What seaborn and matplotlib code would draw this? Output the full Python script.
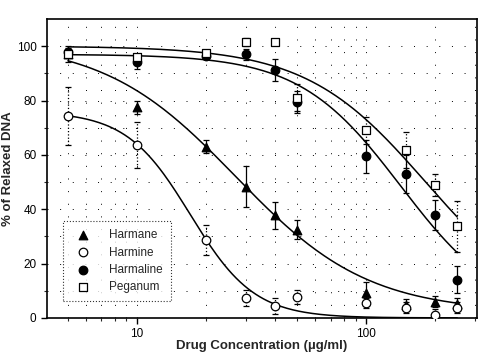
import numpy as np
import pandas as pd
import matplotlib
matplotlib.use("Agg")
import matplotlib.pyplot as plt
from matplotlib.ticker import LogLocator, FixedLocator, NullFormatter, FixedFormatter
import seaborn as sns

conc = [5, 10, 20, 30, 40, 50, 100, 150, 200, 250]
harmane = [97, 77.5, 63, 48.3, 37.7, 32.5, 9.2, 4.8, 6, 5.2]
harmane_err = [3, 2.5, 2.5, 7.5, 5, 3.5, 4, 2, 2, 2]
harmine = [74.3, 63.6, 28.8, 7.4, 4.4, 7.7, 5.5, 3.7, 1.1, 3.7]
harmine_err = [10.5, 8.5, 5.5, 3, 3, 2.5, 2, 2, 2, 2]
harmaline = [98, 94.2, 96.4, 97, 91.1, 79.5, 59.5, 53.1, 37.8, 14]
harmaline_err = [1.5, 2.5, 1, 2, 4, 4, 6, 7, 5.5, 5]
peganum = [97, 96, 97.6, 101.4, 101.4, 81, 69, 61.7, 49, 33.7]
peganum_err = [1, 1, 1, 1.5, 1, 5, 5, 6.6, 4, 9.5]

names = ["Harmane", "Harmine", "Harmaline", "Peganum"]
markers = ["^", "o", "o", "s"]
filled = [True, False, True, False]

# fitted sigmoid parameters per drug: top, bottom, IC50, hill slope
fit_top = [102, 76, 97, 100]
fit_bottom = [2, 0, 0, 0]
fit_ic50 = [27, 17.1, 141.8, 182]
fit_hill = [1.5, 3.11, 1.96, 1.66]

sns.set_style("ticks")
plt.rcParams['font.family'] = ['Liberation Sans', 'DejaVu Sans']

fig = plt.figure(figsize=(5, 3.58), dpi=100)
ax = fig.add_axes([0.094, 0.112, 0.86, 0.835])

# sparse dotted background grid
for xv in [5, 6, 7, 8, 9, 10, 20, 30, 40, 50, 60, 70, 80, 90, 100, 200, 300]:
    ax.axvline(xv, color='black', lw=0.7, linestyle=(0, (1, 12)), zorder=0)
for yv in range(10, 110, 10):
    ax.axhline(yv, color='black', lw=0.7, linestyle=(0, (1, 12)), zorder=0)

# fitted curves
xs = np.logspace(np.log10(5), np.log10(250), 200)
rows = []
for i, n in enumerate(names):
    ys = fit_bottom[i] + (fit_top[i] - fit_bottom[i]) / (1 + (xs / fit_ic50[i]) ** fit_hill[i])
    rows.append(pd.DataFrame({'x': xs, 'y': ys, 'drug': n}))
curves = pd.concat(rows)
sns.lineplot(data=curves, x='x', y='y', units='drug', estimator=None,
             color='black', lw=1.1, ax=ax, legend=False)

# data points with error bars
series = [(harmane, harmane_err), (harmine, harmine_err),
          (harmaline, harmaline_err), (peganum, peganum_err)]
styles = ['-', ':', '-', ':']
for i, (vals, errs) in enumerate(series):
    eb = ax.errorbar(conc, vals, yerr=errs, fmt='none', ecolor='black',
                     elinewidth=0.9, capsize=2.5, capthick=0.9, zorder=3)
    eb[2][0].set_linestyle(styles[i])
    sns.scatterplot(x=conc, y=vals, marker=markers[i], s=38,
                    color='black' if filled[i] else 'white',
                    edgecolor='black', linewidth=0.9, ax=ax, zorder=4,
                    label=names[i])

ax.set_xscale('log')
ax.set_xlim(4.05, 305)
ax.set_ylim(0, 110)
ax.xaxis.set_major_locator(FixedLocator([10, 100]))
ax.xaxis.set_major_formatter(FixedFormatter(['10', '100']))
ax.xaxis.set_minor_locator(LogLocator(base=10, subs=np.arange(2, 10)))
ax.xaxis.set_minor_formatter(NullFormatter())
ax.set_yticks([0, 20, 40, 60, 80, 100])
ax.set_yticks(range(10, 110, 20), minor=True)
ax.tick_params(axis='both', which='major', direction='out', length=4, width=1,
               labelsize=8.5, colors='black')
ax.tick_params(axis='both', which='minor', direction='out', length=2.5, width=0.8)
for s in ax.spines.values():
    s.set_visible(True)
    s.set_linewidth(1.2)
    s.set_color('black')

ax.set_xlabel('Drug Concentration (µg/ml)', fontsize=9.5, fontweight='bold')
ax.xaxis.set_label_coords(0.5, -0.075)
ax.set_ylabel('% of Relaxed DNA', fontsize=9.5, fontweight='bold')
ax.yaxis.set_label_coords(-0.077, 0.5)

leg = ax.legend(loc='lower left', bbox_to_anchor=(0.037, 0.055), fontsize=8.5,
                frameon=True, fancybox=False, edgecolor='black',
                handletextpad=1.2, borderpad=0.7, labelspacing=0.45,
                handlelength=2.0, borderaxespad=0)
leg.get_frame().set_linewidth(0.8)
leg.get_frame().set_linestyle(':')

fig.savefig('out.png', dpi=100, facecolor='white')
